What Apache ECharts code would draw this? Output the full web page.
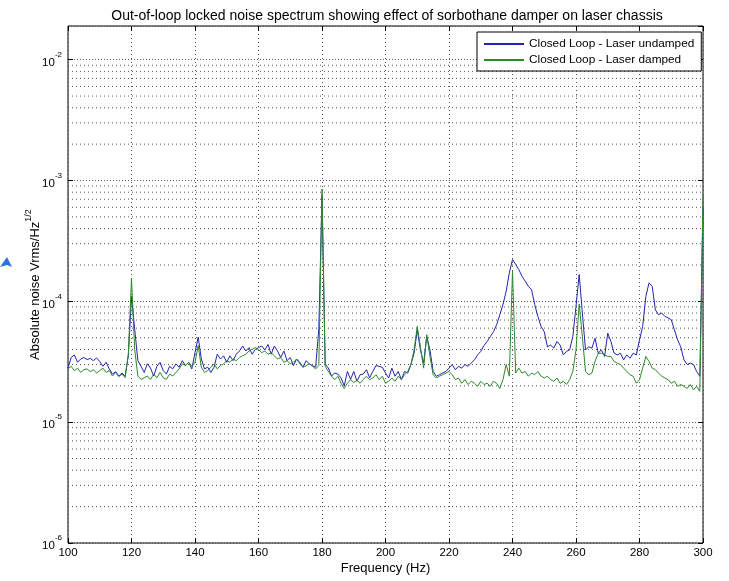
<!DOCTYPE html>
<html>
<head>
<meta charset="utf-8">
<script src="https://cdn.jsdelivr.net/npm/echarts@6/dist/echarts.min.js"></script>
<style>
html,body{margin:0;padding:0;background:#fff;}
#chart{width:729px;height:581px;}
</style>
</head>
<body>
<div id="chart"></div>
<script>
// Frequency bins (Hz)
const freqHz = [
 100,101,102,103,104,105,106,107,108,109,110,111,112,113,114,115,116,117,118,119,
 120,121,122,123,124,125,126,127,128,129,130,131,132,133,134,135,136,137,138,139,
 140,141,142,143,144,145,146,147,148,149,150,151,152,153,154,155,156,157,158,159,
 160,161,162,163,164,165,166,167,168,169,170,171,172,173,174,175,176,177,178,179,
 180,181,182,183,184,185,186,187,188,189,190,191,192,193,194,195,196,197,198,199,
 200,201,202,203,204,205,206,207,208,209,210,211,212,213,214,215,216,217,218,219,
 220,221,222,223,224,225,226,227,228,229,230,231,232,233,234,235,236,237,238,239,
 240,241,242,243,244,245,246,247,248,249,250,251,252,253,254,255,256,257,258,259,
 260,261,262,263,264,265,266,267,268,269,270,271,272,273,274,275,276,277,278,279,
 280,281,282,283,284,285,286,287,288,289,290,291,292,293,294,295,296,297,298,299,
 300
];

// Closed Loop - Laser undamped (Vrms/Hz^1/2)
const undamped = [
 2.8e-5,3.43e-5,3.6e-5,3.13e-5,3.33e-5,3.43e-5,3.3e-5,3.37e-5,3.23e-5,3.4e-5,
 3.17e-5,2.9e-5,3.13e-5,2.76e-5,2.5e-5,2.62e-5,2.41e-5,2.55e-5,2.41e-5,3.54e-5,
 1.1e-4,5.9e-5,3.23e-5,2.9e-5,2.58e-5,3.04e-5,2.8e-5,2.41e-5,2.9e-5,3.13e-5,
 2.67e-5,2.5e-5,2.9e-5,2.76e-5,3.04e-5,2.85e-5,3.23e-5,2.94e-5,3.13e-5,2.76e-5,
 3.76e-5,5.05e-5,3.33e-5,2.76e-5,2.85e-5,2.58e-5,2.85e-5,3.65e-5,3.33e-5,3.54e-5,
 3.13e-5,3.54e-5,3.23e-5,3.65e-5,3.88e-5,4.27e-5,3.88e-5,4.14e-5,3.65e-5,4.0e-5,
 4.14e-5,4.27e-5,3.95e-5,4.4e-5,3.65e-5,4.27e-5,3.88e-5,3.43e-5,3.88e-5,3.23e-5,
 3.43e-5,2.94e-5,3.33e-5,3.13e-5,2.85e-5,3.23e-5,3.04e-5,2.94e-5,2.85e-5,5.9e-5,
 7.5e-4,3.04e-5,2.8e-5,2.41e-5,2.55e-5,2.5e-5,2.32e-5,2.0e-5,2.63e-5,2.26e-5,
 2.63e-5,2.18e-5,2.47e-5,2.5e-5,2.72e-5,2.33e-5,2.63e-5,2.94e-5,2.9e-5,2.85e-5,
 2.55e-5,2.32e-5,2.8e-5,2.4e-5,2.63e-5,2.25e-5,2.63e-5,2.55e-5,3.0e-5,3.72e-5,
 5.8e-5,3.97e-5,3.08e-5,5.1e-5,3.97e-5,2.63e-5,2.4e-5,2.47e-5,2.55e-5,2.63e-5,
 2.8e-5,3.0e-5,2.72e-5,2.9e-5,2.8e-5,3.0e-5,2.9e-5,3.08e-5,3.28e-5,3.6e-5,
 3.85e-5,4.3e-5,4.65e-5,5.1e-5,5.6e-5,6.4e-5,7.75e-5,9.4e-5,1.21e-4,1.72e-4,
 2.22e-4,2.02e-4,1.83e-4,1.61e-4,1.47e-4,1.33e-4,1.25e-4,9.4e-5,7.5e-5,6.2e-5,
 5.6e-5,4.2e-5,4.35e-5,4.1e-5,4.65e-5,4.35e-5,3.6e-5,3.85e-5,3.97e-5,5.1e-5,
 9.1e-5,1.67e-4,8.0e-5,3.97e-5,4.2e-5,4.1e-5,4.95e-5,3.72e-5,3.97e-5,3.5e-5,
 5.45e-5,4.65e-5,3.72e-5,3.6e-5,3.72e-5,3.28e-5,3.6e-5,3.38e-5,3.72e-5,3.6e-5,
 4.8e-5,6.2e-5,1.1e-4,1.42e-4,1.33e-4,8.5e-5,7.75e-5,8.0e-5,7.5e-5,7.3e-5,
 7.05e-5,5.8e-5,4.8e-5,4.2e-5,3.28e-5,3.0e-5,3.08e-5,3.0e-5,2.63e-5,2.4e-5,
 6.0e-4
];

// Closed Loop - Laser damped (Vrms/Hz^1/2)
const damped = [
 2.76e-5,2.9e-5,2.67e-5,2.8e-5,2.58e-5,2.72e-5,2.76e-5,2.62e-5,2.72e-5,2.55e-5,
 2.67e-5,2.8e-5,2.58e-5,2.67e-5,2.41e-5,2.58e-5,2.38e-5,2.5e-5,2.33e-5,3.65e-5,
 1.55e-4,4.0e-5,2.41e-5,2.26e-5,2.33e-5,2.41e-5,2.26e-5,2.5e-5,2.33e-5,2.58e-5,
 2.33e-5,2.26e-5,2.5e-5,2.41e-5,2.58e-5,2.76e-5,3.04e-5,2.94e-5,3.13e-5,2.9e-5,
 3.13e-5,4.3e-5,2.85e-5,2.58e-5,2.67e-5,2.85e-5,3.04e-5,2.76e-5,2.94e-5,3.04e-5,
 3.23e-5,3.13e-5,3.33e-5,3.23e-5,3.43e-5,3.54e-5,3.65e-5,3.88e-5,4.0e-5,4.14e-5,
 4.0e-5,3.76e-5,3.88e-5,3.65e-5,3.76e-5,3.54e-5,3.33e-5,3.43e-5,3.13e-5,3.23e-5,
 3.04e-5,3.13e-5,3.33e-5,3.04e-5,2.85e-5,2.94e-5,3.04e-5,2.9e-5,2.76e-5,2.94e-5,
 8.5e-4,2.9e-5,2.63e-5,2.4e-5,2.25e-5,2.4e-5,2.1e-5,1.9e-5,2.1e-5,2.25e-5,
 2.13e-5,2.22e-5,2.1e-5,2.25e-5,2.4e-5,2.25e-5,2.32e-5,2.47e-5,2.25e-5,2.4e-5,
 2.1e-5,2.18e-5,2.32e-5,2.18e-5,2.4e-5,2.25e-5,2.47e-5,2.63e-5,3.0e-5,3.97e-5,
 6.2e-5,4.2e-5,2.8e-5,5.3e-5,3.5e-5,2.47e-5,2.32e-5,2.4e-5,2.47e-5,2.55e-5,
 2.63e-5,2.47e-5,2.25e-5,2.32e-5,2.1e-5,2.25e-5,2.05e-5,2.18e-5,2.1e-5,1.98e-5,
 2.18e-5,2.05e-5,2.1e-5,1.98e-5,2.18e-5,2.1e-5,1.9e-5,2.25e-5,3.0e-5,2.4e-5,
 1.8e-4,2.55e-5,2.8e-5,2.55e-5,2.63e-5,2.4e-5,2.55e-5,2.47e-5,2.63e-5,2.4e-5,
 2.32e-5,2.4e-5,2.25e-5,2.18e-5,2.32e-5,2.1e-5,2.18e-5,2.05e-5,2.25e-5,2.63e-5,
 3.97e-5,9.5e-5,5.1e-5,2.63e-5,2.47e-5,2.55e-5,3.2e-5,3.7e-5,3.72e-5,3.6e-5,
 3.5e-5,3.5e-5,3.18e-5,3.08e-5,3.0e-5,2.8e-5,2.63e-5,2.47e-5,2.4e-5,2.1e-5,
 2.25e-5,2.8e-5,3.5e-5,3.18e-5,2.8e-5,2.72e-5,2.55e-5,2.4e-5,2.32e-5,2.25e-5,
 2.1e-5,2.18e-5,1.98e-5,2.05e-5,1.98e-5,1.9e-5,2.05e-5,1.85e-5,1.98e-5,1.8e-5,
 7.5e-4
];

const seriesNames = ['Closed Loop - Laser undamped', 'Closed Loop - Laser damped'];
const xTicks = {min: 100, max: 300, step: 20};
const yRange = {min: 1e-6, max: 0.019};
const minorMultipliers = [2,3,4,5,6,7,8,9];
const minorDecades = [1e-6, 1e-5, 1e-4, 1e-3];

const FONT = '"Liberation Sans", Arial, sans-serif';
const gridColor = '#555';

const pairs = (ys) => freqHz.map((f, i) => [f, ys[i]]);

// minor (2..9 x 10^n) dotted grid lines, drawn as flat two-point series on the log axis
const minorGridSeries = [];
minorDecades.forEach(d => minorMultipliers.forEach(m => {
  const v = d * m;
  if (v < yRange.max) {
    minorGridSeries.push({
      type: 'line', silent: true, showSymbol: false, symbol: 'none',
      data: [[xTicks.min, v], [xTicks.max, v]],
      lineStyle: {color: gridColor, type: [1, 3], width: 1},
      z: 1, tooltip: {show: false}
    });
  }
}));

function isDecade(v) {
  const l = Math.log10(v);
  return Math.abs(l - Math.round(l)) < 1e-6;
}

const chart = echarts.init(document.getElementById('chart'), null, {renderer: 'canvas'});
chart.setOption({
  animation: false,
  backgroundColor: '#fff',
  textStyle: {fontFamily: FONT},
  title: {
    text: 'Out-of-loop locked noise spectrum showing effect of sorbothane damper on laser chassis',
    left: 382, top: 4, textAlign: 'center',
    textStyle: {fontFamily: FONT, fontSize: 14, fontWeight: 'normal', color: '#000'}
  },
  grid: {left: 68, right: 26, top: 26, bottom: 38, show: true, borderColor: '#000', borderWidth: 1, backgroundColor: '#fff'},
  legend: {
    orient: 'vertical',
    left: 477, top: 32,
    padding: [5, 7, 4, 6],
    itemWidth: 40, itemHeight: 14, itemGap: 2,
    backgroundColor: '#fff', borderColor: '#000', borderWidth: 1,
    itemStyle: {opacity: 0},
    textStyle: {fontFamily: FONT, fontSize: 11.8, color: '#000', lineHeight: 14},
    data: seriesNames
  },
  xAxis: [{
    type: 'value', min: xTicks.min, max: xTicks.max, interval: xTicks.step,
    name: 'Frequency (Hz)', nameLocation: 'middle', nameGap: 19, nameMoveOverlap: false,
    nameTextStyle: {fontFamily: FONT, fontSize: 13, color: '#000'},
    axisLine: {show: false},
    axisTick: {show: true, inside: true, length: 5, lineStyle: {color: '#000'}},
    axisLabel: {color: '#000', fontSize: 11.5, fontFamily: FONT, margin: 4},
    splitLine: {show: true, lineStyle: {color: gridColor, type: [1, 3], width: 1}}
  }, {
    type: 'value', min: xTicks.min, max: xTicks.max, interval: xTicks.step, position: 'top',
    axisLine: {show: false},
    axisTick: {show: true, inside: true, length: 5, lineStyle: {color: '#000'}},
    axisLabel: {show: false}, splitLine: {show: false}
  }],
  yAxis: [{
    type: 'log', logBase: 10, min: yRange.min, max: yRange.max,
    name: '{a|Absolute noise Vrms/Hz}{s|1/2}',
    nameLocation: 'middle', nameGap: 26, nameMoveOverlap: false,
    nameTextStyle: {
      fontFamily: FONT, color: '#000',
      rich: {
        a: {fontFamily: FONT, fontSize: 13, color: '#000', padding: [5, 0, 0, 0], verticalAlign: 'bottom'},
        s: {fontFamily: FONT, fontSize: 9, color: '#000', verticalAlign: 'top'}
      }
    },
    axisLine: {show: false},
    axisTick: {show: true, inside: true, length: 5, lineStyle: {color: '#000'}},
    axisLabel: {
      showMinLabel: true, showMaxLabel: false, margin: 6,
      formatter: v => isDecade(v) ? '{b|10}{s|' + Math.round(Math.log10(v)) + '}' : '',
      rich: {
        b: {fontFamily: FONT, fontSize: 11.5, color: '#000', padding: [6, 0, 0, 0], verticalAlign: 'bottom'},
        s: {fontFamily: FONT, fontSize: 8, color: '#000', verticalAlign: 'top'}
      }
    },
    splitLine: {show: true, lineStyle: {color: gridColor, type: [1, 2], width: 1}}
  }, {
    type: 'log', logBase: 10, min: yRange.min, max: yRange.max, position: 'right',
    axisLine: {show: false},
    axisTick: {show: true, inside: true, length: 5, lineStyle: {color: '#000'}},
    axisLabel: {show: false}, splitLine: {show: false}
  }],
  series: minorGridSeries.concat([{
    name: seriesNames[0], type: 'line', data: pairs(undamped),
    xAxisIndex: 0, yAxisIndex: 0,
    showSymbol: false, symbol: 'none',
    lineStyle: {color: '#2323b0', width: 1}, itemStyle: {color: '#2323b0'},
    z: 2
  }, {
    name: seriesNames[1], type: 'line', data: pairs(damped),
    xAxisIndex: 0, yAxisIndex: 0,
    showSymbol: false, symbol: 'none',
    lineStyle: {color: '#2b8a2b', width: 1}, itemStyle: {color: '#2b8a2b'},
    z: 3
  }]),
  graphic: [{
    type: 'polygon',
    shape: {points: [[0, 267], [7, 257], [12, 267], [7, 265]]},
    style: {fill: '#2a72e0'}
  }]
});
</script>
</body>
</html>
